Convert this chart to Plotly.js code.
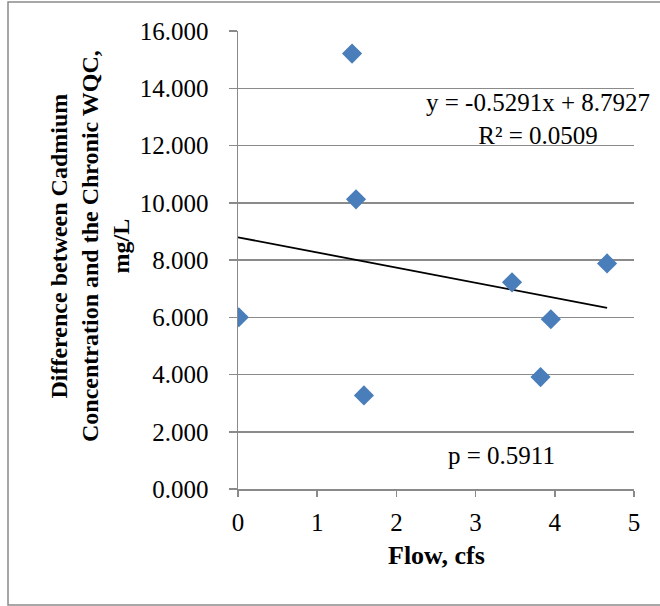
<!DOCTYPE html>
<html>
<head>
<meta charset="utf-8">
<script src="https://cdn.plot.ly/plotly-3.0.1.min.js"></script>
<style>
html,body{margin:0;padding:0;background:#fff;}
#chart{width:660px;height:606px;}
</style>
</head>
<body>
<div id="chart"></div>
<script>
// Data
const flow = [0.01, 1.44, 1.49, 1.59, 3.46, 3.82, 3.95, 4.66];
const difference = [6.00, 15.21, 10.12, 3.27, 7.22, 3.91, 5.93, 7.88];
const slope = -0.5291;
const intercept = 8.7927;
const equationText = "y = -0.5291x + 8.7927<br>R² = 0.0509";
const pText = "p = 0.5911";
const xTitle = "Flow, cfs";
const yTitle = "Difference between Cadmium<br>Concentration and the Chronic WQC,<br>mg/L";

const xMax = Math.max(...flow);
const trendX = [0, xMax];
const trendY = trendX.map(v => slope * v + intercept);

const font = "Liberation Serif, Times New Roman, serif";
const grid = "#8a8a8a";
const fs = 25;

const data = [
  {
    x: trendX, y: trendY, type: "scatter", mode: "lines",
    line: {color: "#000000", width: 1.8}, hoverinfo: "skip"
  },
  {
    x: flow, y: difference, type: "scatter", mode: "markers",
    marker: {symbol: "diamond", size: 15.5, color: "#4A7EBB", line: {width: 0}}
  }
];

const layout = {
  width: 660, height: 606,
  margin: {l: 238, r: 26, t: 31, b: 117},
  paper_bgcolor: "#ffffff", plot_bgcolor: "#ffffff",
  showlegend: false,
  font: {family: font, size: fs, color: "#000"},
  xaxis: {
    range: [0, 5], dtick: 1, tick0: 0,
    showgrid: false, zeroline: false,
    showline: true, linecolor: grid, linewidth: 1.5,
    ticks: "outside", ticklen: 6, tickwidth: 1.5, tickcolor: grid,
    ticklabelstandoff: 4,
    tickfont: {family: font, size: fs, color: "#000"}
  },
  yaxis: {
    range: [0, 16], dtick: 2, tick0: 0, tickformat: ".3f",
    showgrid: true, gridcolor: grid, gridwidth: 1.5, zeroline: false,
    showline: true, linecolor: grid, linewidth: 1.5,
    ticks: "outside", ticklen: 8, tickwidth: 1.5, tickcolor: grid,
    ticklabelstandoff: 15,
    tickfont: {family: font, size: fs, color: "#000"}
  },
  annotations: [
    {xref: "paper", yref: "paper", x: (538 - 238) / 396, y: (489 - 119) / 458,
     text: equationText, showarrow: false, xanchor: "center", yanchor: "middle",
     align: "center", font: {family: font, size: fs, color: "#000"}},
    {xref: "paper", yref: "paper", x: (501 - 238) / 396, y: (489 - 455) / 458,
     text: pText, showarrow: false, xanchor: "center", yanchor: "middle",
     font: {family: font, size: fs, color: "#000"}},
    {xref: "paper", yref: "paper", x: (436 - 238) / 396, y: (489 - 555) / 458,
     text: "<b>" + xTitle + "</b>", showarrow: false, xanchor: "center", yanchor: "middle",
     font: {family: font, size: 26, color: "#000"}},
    {xref: "paper", yref: "paper", x: (90 - 238) / 396, y: (489 - 246) / 458,
     text: "<b>" + yTitle.split("<br>").join("</b><br><b>") + "</b>", showarrow: false,
     textangle: -90, xanchor: "center", yanchor: "middle", align: "center",
     font: {family: font, size: 24, color: "#000"}}
  ],
  shapes: [
    {type: "rect", xref: "paper", yref: "paper",
     x0: (8 - 238) / 396, x1: (720 - 238) / 396,
     y0: (489 - 605) / 458, y1: (489 - 2) / 458,
     line: {color: "#8a8a8a", width: 1.5}, fillcolor: "rgba(0,0,0,0)", layer: "below"}
  ]
};

Plotly.newPlot("chart", data, layout, {displayModeBar: false, staticPlot: true});
</script>
</body>
</html>
